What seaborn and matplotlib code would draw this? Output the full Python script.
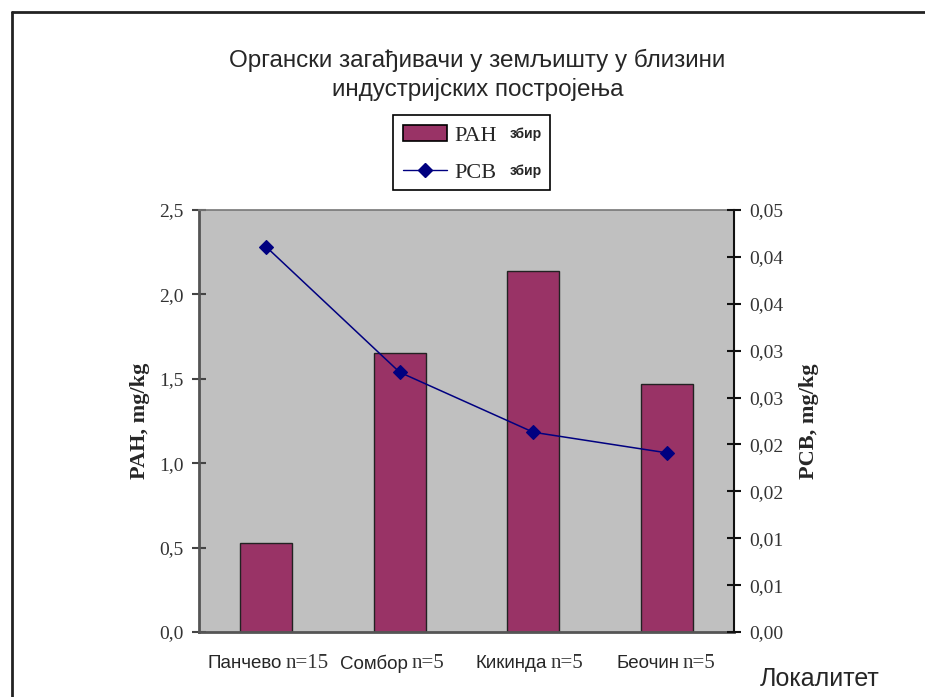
import matplotlib
matplotlib.use("Agg")
import matplotlib.pyplot as plt
import seaborn as sns
import pandas as pd
from matplotlib.lines import Line2D
from matplotlib.patches import Patch, Rectangle

# ---- data ----
locations = ["Панчево", "Сомбор", "Кикинда", "Беочин"]
n_labels = ["n=15", "n=5", "n=5", "n=5"]
pah_values = [0.53, 1.65, 2.14, 1.47]
pcb_values = [0.0411, 0.0277, 0.0213, 0.0191]
left_ticks = [0.0, 0.5, 1.0, 1.5, 2.0, 2.5]
left_ticklabels = ["0,0", "0,5", "1,0", "1,5", "2,0", "2,5"]
right_ticks = [0.0, 0.005, 0.010, 0.015, 0.020, 0.025, 0.030, 0.035, 0.040, 0.045]
right_ticklabels = ["0,00", "0,01", "0,01", "0,02", "0,02", "0,03", "0,03", "0,04", "0,04", "0,05"]
title = "Органски загађивачи у земљишту у близини\nиндустријских постројења"

df = pd.DataFrame({"loc": locations, "pah": pah_values, "pcb": pcb_values})

sns.set_style("white")
plt.rcParams["font.family"] = ["Liberation Sans", "DejaVu Sans"]

W, H = 925, 697
fig = plt.figure(figsize=(W / 100, H / 100), dpi=100)
fig.patch.set_facecolor("white")

def fx(px):
    return px / W

def fy(py):
    return 1 - py / H

ax = fig.add_axes([fx(199), fy(632), (734 - 199) / W, (632 - 210) / H])
ax.set_facecolor("#C0C0C0")

sns.barplot(data=df, x="loc", y="pah", ax=ax, color="#993366", width=0.39,
            edgecolor="#222222", linewidth=1.0, saturation=1)
ax.set_xlim(-0.5, len(locations) - 0.5)
ax.set_ylim(0, 2.5)
ax.set_yticks(left_ticks)
ax.set_yticklabels(left_ticklabels, family="Liberation Serif", fontsize=14, color="#333333")
ax.set_xticks([0.5, 1.5, 2.5])
ax.set_xticklabels([])
ax.set_xlabel("")
ax.set_ylabel("PAH, mg/kg", family="Liberation Serif", fontweight="bold", fontsize=16,
              labelpad=7)
ax.tick_params(axis="y", direction="inout", length=10, width=1.5, color="#444444", pad=6)
ax.tick_params(axis="x", direction="inout", length=12, width=1.5, color="#444444")
for side in ["left", "bottom"]:
    ax.spines[side].set_color("#555555")
    ax.spines[side].set_linewidth(2)
ax.spines["top"].set_color("#777777")
ax.spines["top"].set_linewidth(1.2)
ax.spines["right"].set_visible(False)

ax2 = ax.twinx()
sns.pointplot(data=df, x="loc", y="pcb", ax=ax2, color="#000080", markers="D",
              markersize=7.5, linewidth=1.1)
ax2.set_xlim(-0.5, len(locations) - 0.5)
ax2.set_ylim(0, 0.045)
ax2.set_yticks(right_ticks)
ax2.set_yticklabels(right_ticklabels, family="Liberation Serif", fontsize=14, color="#333333")
ax2.set_ylabel("PCB, mg/kg", family="Liberation Serif", fontweight="bold", fontsize=16,
               labelpad=11)
ax2.set_xlabel("")
ax2.tick_params(axis="y", direction="inout", length=10, width=1.5, color="#111111", pad=6)
for side in ["left", "top", "bottom"]:
    ax2.spines[side].set_visible(False)
ax2.spines["right"].set_color("#111111")
ax2.spines["right"].set_linewidth(1.5)

# category labels
name_split_px = [282, 408, 547, 679]
for name, nl, sx in zip(locations, n_labels, name_split_px):
    fig.text(fx(sx), fy(664), name, ha="right", va="center", fontsize=13.5,
             family="Liberation Sans")
    fig.text(fx(sx + 4), fy(663), nl, ha="left", va="center", fontsize=15,
             family="Liberation Serif", color="#333333")
fig.text(fx(760), fy(679), "Локалитет", ha="left", va="center", fontsize=18)

# title
fig.text(0.5 * (fx(224) + fx(731)), fy(75), title, ha="center", va="center",
         fontsize=17.5, linespacing=1.3)

# legend (frame drawn separately)
fig.add_artist(Rectangle((fx(393), fy(190)), (550 - 393) / W, (190 - 115) / H,
                         transform=fig.transFigure, facecolor="white",
                         edgecolor="black", linewidth=1.2, zorder=4))
handles = [Patch(facecolor="#993366", edgecolor="black", linewidth=1.2),
           Line2D([0], [0], color="#000080", marker="D", markersize=7.5, linewidth=1.0)]
leg = fig.legend(handles, ["PAH", "PCB"], loc="upper left",
                 bbox_to_anchor=(fx(393), fy(115)), frameon=False,
                 prop={"family": "Liberation Serif", "size": 16}, handlelength=2.0,
                 borderpad=0.45, labelspacing=0.75, handletextpad=0.3,
                 borderaxespad=0)
leg.set_zorder(5)

fig.canvas.draw()
r = fig.canvas.get_renderer()
for t in leg.get_texts():
    bb = t.get_window_extent(r)
    fig.text(fx(510), (bb.y0 + bb.y1) / 2 / H + 2 / H, "збир", ha="left",
             va="center", fontsize=10, fontweight="bold", zorder=10)

# page border
fig.add_artist(Line2D([fx(12), 1], [fy(12), fy(12)], color="#222222", linewidth=2,
                      transform=fig.transFigure))
fig.add_artist(Line2D([fx(12), fx(12)], [fy(12), 0], color="#222222", linewidth=2,
                      transform=fig.transFigure))

fig.savefig("out.png", dpi=100)
